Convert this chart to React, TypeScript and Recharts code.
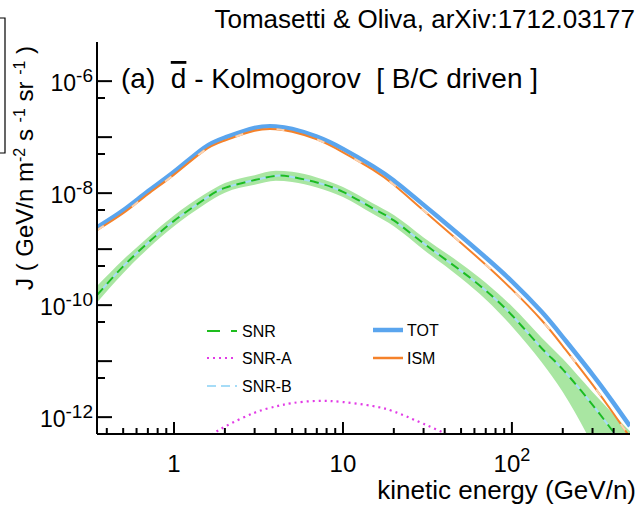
import React from "react";
import { ComposedChart, Line, Area, XAxis, YAxis } from "recharts";

// kinetic energy grid (GeV/n)
const energies = [0.35, 0.5, 0.7, 1, 1.5, 2, 3, 4, 5, 7, 10, 15, 20, 30, 50, 70, 100, 150, 200, 300, 400, 500];

// fluxes J (GeV/n m^-2 s^-1 sr^-1)
const tot = [2.455e-9, 4.94e-9, 1.077e-8, 2.4e-8, 6.4e-8, 9.8e-8, 1.46e-7, 1.55e-7, 1.4e-7, 1.02e-7, 6.17e-8, 3.04e-8, 1.68e-8, 6.17e-9, 1.7e-9, 7.08e-10, 2.66e-10, 7.59e-11, 2.69e-11, 5.75e-12, 1.78e-12, 6.92e-13];
const ism = [2.19e-9, 4.37e-9, 9.55e-9, 2.14e-8, 5.7e-8, 8.7e-8, 1.3e-7, 1.38e-7, 1.25e-7, 9.12e-8, 5.37e-8, 2.63e-8, 1.41e-8, 4.9e-9, 1.29e-9, 5.25e-10, 1.91e-10, 5.37e-11, 1.86e-11, 3.8e-12, 1.15e-12, 4.37e-13];
const snr = [1.51e-10, 4.93e-10, 1.29e-9, 3.2e-9, 7.62e-9, 1.24e-8, 1.71e-8, 2.04e-8, 1.95e-8, 1.55e-8, 1.05e-8, 5.37e-9, 3.26e-9, 1.27e-9, 4.09e-10, 1.82e-10, 6.61e-11, 1.7e-11, 7.13e-12, 1.66e-12, 5.37e-13, 2.24e-13];
const snrB = snr;
const snrA = [null, null, null, 1.41e-13, 3.8e-13, 6.76e-13, 1.2e-12, 1.55e-12, 1.78e-12, 1.95e-12, 1.86e-12, 1.58e-12, 1.26e-12, 7.59e-13, 3.8e-13, 2.24e-13, 1.12e-13, null, null, null, null, null];
const snrLow = [1.12e-10, 3.72e-10, 1.02e-9, 2.57e-9, 6.17e-9, 1.02e-8, 1.41e-8, 1.66e-8, 1.58e-8, 1.26e-8, 8.51e-9, 4.27e-9, 2.57e-9, 9.77e-10, 3.02e-10, 1.26e-10, 4.17e-11, 9.55e-12, 2.82e-12, 3.16e-13, 5e-14, 1e-14];
const snrHigh = [2.19e-10, 6.46e-10, 1.62e-9, 3.98e-9, 9.33e-9, 1.51e-8, 2.09e-8, 2.51e-8, 2.4e-8, 1.91e-8, 1.29e-8, 6.61e-9, 4.07e-9, 1.62e-9, 5.5e-10, 2.51e-10, 9.55e-11, 2.63e-11, 1.1e-11, 2.82e-12, 1.12e-12, 5.62e-13];

const xMajor = [1, 10, 100];
const xMinor = [0.4, 0.5, 0.6, 0.7, 0.8, 0.9, 2, 3, 4, 5, 6, 7, 8, 9, 20, 30, 40, 50, 60, 70, 80, 90, 200, 300, 400];
const xLabels: Record<number, [string, string]> = { 1: ["1", ""], 10: ["10", ""], 100: ["10", "2"] };
const yMajor = [1e-12, 1e-11, 1e-10, 1e-9, 1e-8, 1e-7, 1e-6];
const yMinor = [5e-12, 5e-11, 5e-10, 5e-9, 5e-8, 5e-7];
const yLabels: Record<string, string> = { "1e-12": "-12", "1e-10": "-10", "1e-8": "-8", "1e-6": "-6" };

const data = energies.map((e, i) => ({
  e,
  tot: tot[i],
  ism: ism[i],
  snr: snr[i],
  snrB: snrB[i],
  snrA: snrA[i],
  band: [snrLow[i], snrHigh[i]],
}));

const W = 640;
const H = 512;
const P = { left: 97, top: 42, right: 630, bottom: 434 };
const FONT = "'Liberation Sans', Arial, Helvetica, sans-serif";

const isMajorX = (v: number) => xMajor.includes(v);
const isMajorY = (v: number) => yMajor.some((m) => Math.abs(m - v) / m < 1e-6);

const BottomTick = (props: any) => {
  const v = props.payload.value;
  const x = props.payload.coordinate ?? props.x;
  const major = isMajorX(v);
  const lab = xLabels[v];
  return (
    <g>
      <line x1={x} x2={x} y1={P.bottom} y2={P.bottom - (major ? 12 : 6)} stroke="#000" strokeWidth={2} />
      {lab && (
        <text x={x} y={472} textAnchor="middle" fontSize={24} fontFamily={FONT} fill="#000">
          {lab[0]}
          {lab[1] && (
            <tspan dy={-11} fontSize={18}>
              {lab[1]}
            </tspan>
          )}
        </text>
      )}
    </g>
  );
};

const TopTick = (props: any) => {
  const v = props.payload.value;
  const x = props.payload.coordinate ?? props.x;
  const major = isMajorX(v);
  return <line x1={x} x2={x} y1={P.top} y2={P.top + (major ? 12 : 6)} stroke="#000" strokeWidth={2} />;
};

const LeftTick = (props: any) => {
  const v = props.payload.value;
  const y = props.payload.coordinate ?? props.y;
  const major = isMajorY(v);
  const key = v.toExponential(0).replace("+", "");
  const sup = major ? yLabels[key] : undefined;
  return (
    <g>
      <line x1={P.left} x2={P.left + (major ? 15 : 8)} y1={y} y2={y} stroke="#000" strokeWidth={2} />
      {sup && (
        <text x={93} y={y + 10} textAnchor="end" fontSize={23} fontFamily={FONT} fill="#000">
          10
          <tspan dy={-9} fontSize={19}>
            {sup}
          </tspan>
        </text>
      )}
    </g>
  );
};

const RightTick = (props: any) => {
  const v = props.payload.value;
  const y = props.payload.coordinate ?? props.y;
  const major = isMajorY(v);
  return <line x1={P.right} x2={P.right - (major ? 15 : 8)} y1={y} y2={y} stroke="#000" strokeWidth={2} />;
};

const Sup = ({ children }: { children: string }) => (
  <tspan dy={-8} fontSize={16}>
    {children}
  </tspan>
);

export default function App() {
  const xTicks = [...xMinor, ...xMajor].sort((a, b) => a - b);
  const yTicks = [...yMinor, ...yMajor].sort((a, b) => a - b);
  const axisLine = { stroke: "#000", strokeWidth: 2 };
  return (
    <div style={{ position: "absolute", left: 0, top: 0, width: W, height: H, background: "#fff" }}>
      <ComposedChart width={W} height={H} data={data} margin={{ top: P.top, right: W - P.right, bottom: 0, left: 0 }}>
        <XAxis
          dataKey="e"
          type="number"
          scale="log"
          domain={[0.35, 500]}
          allowDataOverflow
          ticks={xTicks}
          interval={0}
          tickLine={false}
          axisLine={axisLine}
          tick={<BottomTick />}
          height={H - P.bottom}
        />
        <XAxis
          xAxisId="top"
          dataKey="e"
          orientation="top"
          type="number"
          scale="log"
          domain={[0.35, 500]}
          allowDataOverflow
          ticks={xTicks}
          interval={0}
          tickLine={false}
          axisLine={axisLine}
          tick={<TopTick />}
          height={0}
        />
        <YAxis
          type="number"
          scale="log"
          domain={[5e-13, 5e-6]}
          allowDataOverflow
          ticks={yTicks}
          interval={0}
          tickLine={false}
          axisLine={axisLine}
          tick={<LeftTick />}
          width={P.left}
        />
        <YAxis
          yAxisId="right"
          orientation="right"
          type="number"
          scale="log"
          domain={[5e-13, 5e-6]}
          allowDataOverflow
          ticks={yTicks}
          interval={0}
          tickLine={false}
          axisLine={axisLine}
          tick={<RightTick />}
          width={0}
        />
        <Area dataKey="band" type="monotone" fill="#a9e6a2" fillOpacity={1} stroke="none" isAnimationActive={false} />
        <Line dataKey="snrA" type="natural" stroke="#e23be6" strokeWidth={2.2} strokeDasharray="2 4" dot={false} isAnimationActive={false} />
        <Line dataKey="tot" type="natural" stroke="#5aa5ee" strokeWidth={4.5} dot={false} isAnimationActive={false} />
        <Line dataKey="ism" type="natural" stroke="#f5822a" strokeWidth={2} dot={false} isAnimationActive={false} />
        <Line dataKey="ism" type="natural" stroke="#fbd2b0" strokeWidth={2} strokeDasharray="8 34" dot={false} isAnimationActive={false} />
        <Line dataKey="snrB" type="natural" stroke="#a6dcf7" strokeWidth={2} dot={false} isAnimationActive={false} />
        <Line dataKey="snr" type="natural" stroke="#1ebd1e" strokeWidth={2} strokeDasharray="9 6" dot={false} isAnimationActive={false} />
      </ComposedChart>
      <svg width={W} height={H} style={{ position: "absolute", left: 0, top: 0, pointerEvents: "none" }} fontFamily={FONT}>
        <path d="M0 18 H5 V153 H0" fill="none" stroke="#000" strokeWidth={1.2} />
        <text x={635} y={28} textAnchor="end" fontSize={26} fill="#000">
          Tomasetti &amp; Oliva, arXiv:1712.03177
        </text>
        <text x={121} y={88} fontSize={28} fill="#000" style={{ whiteSpace: "pre" }}>
          {"(a)  "}
          <tspan textDecoration="overline">d</tspan>
          {" - Kolmogorov  [ B/C driven ]"}
        </text>
        <text transform="rotate(-90)" x={-168} y={33} textAnchor="middle" fontSize={24} fill="#000" style={{ whiteSpace: "pre" }}>
          {"J ( GeV/n m"}
          <Sup>-2</Sup>
          <tspan dy={8}>{" s "}</tspan>
          <Sup>-1</Sup>
          <tspan dy={8}>{" sr "}</tspan>
          <Sup>-1</Sup>
          <tspan dy={8}>{" )"}</tspan>
        </text>
        <text x={636} y={499} textAnchor="end" fontSize={26} fill="#000">
          kinetic energy (GeV/n)
        </text>
        {/* legend */}
        <line x1={207} x2={220} y1={331} y2={331} stroke="#1ebd1e" strokeWidth={2} />
        <line x1={231} x2={237} y1={331} y2={331} stroke="#1ebd1e" strokeWidth={2} />
        <text x={242} y={337} fontSize={16} fill="#000">SNR</text>
        <line x1={207} x2={237} y1={358} y2={358} stroke="#e23be6" strokeWidth={2.2} strokeDasharray="2 4" />
        <text x={242} y={364} fontSize={16} fill="#000">SNR-A</text>
        <line x1={207} x2={237} y1={386} y2={386} stroke="#a6dcf7" strokeWidth={2} strokeDasharray="9 5" />
        <text x={242} y={392} fontSize={16} fill="#000">SNR-B</text>
        <line x1={373} x2={403} y1={330} y2={330} stroke="#5aa5ee" strokeWidth={4.5} />
        <text x={407} y={336} fontSize={16} fill="#000">TOT</text>
        <line x1={373} x2={403} y1={358} y2={358} stroke="#f5822a" strokeWidth={2.5} />
        <text x={407} y={364} fontSize={16} fill="#000">ISM</text>
      </svg>
    </div>
  );
}
